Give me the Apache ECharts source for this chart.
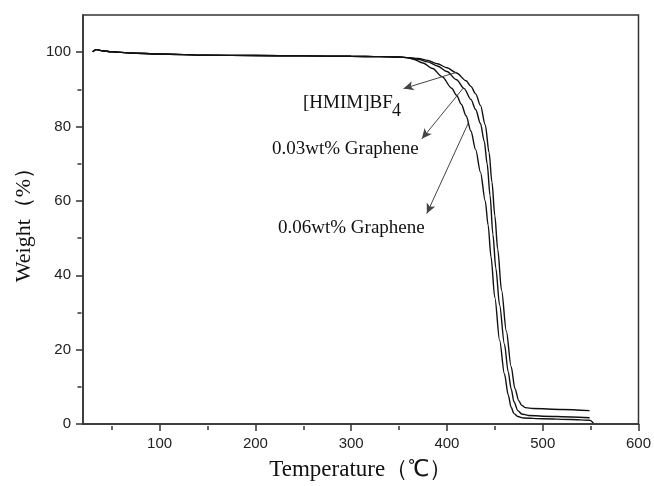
<!DOCTYPE html>
<html>
<head>
<meta charset="utf-8">
<script src="https://cdn.jsdelivr.net/npm/echarts@6/dist/echarts.min.js"></script>
<style>html,body{margin:0;padding:0;background:#fff;}#c{width:654px;height:486px;}</style>
</head>
<body>
<div id="c"></div>
<script>
// ---- data ----
var seriesNames = ['[HMIM]BF4', '0.03wt% Graphene', '0.06wt% Graphene'];
var commonTemp   = [30, 34, 40, 50, 70, 100, 150, 200, 250, 300, 330, 350, 360];
var commonWeight = [100.1, 100.7, 100.4, 100.1, 99.8, 99.5, 99.2, 99.1, 99.0, 98.9, 98.8, 98.7, 98.5];

var tempHMIM   = [370, 380, 390, 400, 410, 420, 425, 430, 435, 440, 444, 447, 450, 453, 457, 462, 467, 471, 475, 478, 482, 490, 520, 549];
var weightHMIM = [98.3, 97.8, 96.9, 95.8, 94.4, 92.3, 90.8, 88.8, 85.7, 80.5, 73, 65, 56, 47, 36, 25, 15.5, 9.5, 6.3, 5.0, 4.4, 4.15, 3.9, 3.6];

var temp003   = [370, 380, 390, 400, 410, 418, 425, 430, 435, 439, 442, 445, 448, 451, 455, 460, 464, 467, 470, 474, 478, 485, 500, 530, 549];
var weight003 = [98.1, 97.4, 96.3, 94.8, 92.6, 90.2, 87.3, 84.6, 80.8, 76, 70, 61.5, 51, 42, 32, 21.5, 14, 9.5, 6, 3.6, 2.7, 2.3, 2.1, 1.9, 1.7];

var temp006   = [365, 375, 385, 395, 405, 410, 415, 420, 425, 430, 435, 440, 443, 446, 450, 455, 460, 464, 467, 470, 474, 480, 500, 530, 549, 553];
var weight006 = [98.1, 97.1, 95.6, 93.4, 90.3, 88.4, 86.0, 82.9, 78.8, 73.8, 67.7, 60, 53.5, 45, 34, 22.5, 13.5, 7.8, 4.5, 2.8, 2.0, 1.6, 1.4, 1.2, 1.0, 0.3];

var xMajorTicks = [100, 200, 300, 400, 500, 600];
var xMinorTicks = [50, 150, 250, 350, 450, 550];
var yMajorTicks = [0, 20, 40, 60, 80, 100];
var yMinorTicks = [10, 30, 50, 70, 90];

// arrows: [from curve point] -> [label], in data units
var arrowFrom = [[410.2, 94.6], [417.2, 90.4], [422.4, 81.0]];
var arrowTo   = [[354.7, 90.2], [373.8, 76.7], [379.0, 56.6]];

function pairs(t, w) {
  var out = [];
  for (var i = 0; i < commonTemp.length; i++) out.push([commonTemp[i], commonWeight[i]]);
  for (var j = 0; j < t.length; j++) out.push([t[j], w[j]]);
  return out;
}

var chart = echarts.init(document.getElementById('c'), null, {renderer: 'canvas'});
var axisColor = '#333';
var serif = '"Liberation Serif", "Times New Roman", serif';
var sans = '"Liberation Sans", Arial, sans-serif';

var arrowData = arrowFrom.map(function (f, i) {
  return [{coord: f}, {coord: arrowTo[i]}];
});

function lineSeries(name, data, extra) {
  var s = {
    name: name, type: 'line', data: data, showSymbol: false, smooth: 0.3, smoothMonotone: 'x',
    lineStyle: {color: '#111', width: 1.4}, itemStyle: {color: '#111'},
    xAxisIndex: 0, yAxisIndex: 0, animation: false, z: 3
  };
  if (extra) for (var k in extra) s[k] = extra[k];
  return s;
}

var option = {
  backgroundColor: '#fff',
  animation: false,
  grid: {left: 83, right: 14, top: 15, bottom: 60, show: true, borderColor: axisColor, borderWidth: 1.5, backgroundColor: 'transparent'},
  xAxis: [{
    type: 'value', min: 20, max: 600, position: 'bottom',
    axisLine: {show: true, lineStyle: {color: axisColor, width: 1.5}},
    axisTick: {show: true, customValues: xMajorTicks, length: 7, lineStyle: {color: axisColor, width: 1.5}},
    axisLabel: {customValues: xMajorTicks, fontSize: 15, fontFamily: sans, color: '#222', margin: 12},
    splitLine: {show: false},
    name: 'Temperature（℃）', nameLocation: 'middle', nameGap: 34,
    nameTextStyle: {fontFamily: serif, fontSize: 23, color: '#111'}
  }, {
    type: 'value', min: 20, max: 600, position: 'top', offset: -411,
    axisLine: {show: false},
    axisTick: {show: true, inside: true, customValues: xMinorTicks, length: 4, lineStyle: {color: axisColor, width: 1.5}},
    axisLabel: {show: false}, splitLine: {show: false}
  }],
  yAxis: [{
    type: 'value', min: 0, max: 110, position: 'left',
    axisLine: {show: true, lineStyle: {color: axisColor, width: 1.5}},
    axisTick: {show: true, customValues: yMajorTicks, length: 7, lineStyle: {color: axisColor, width: 1.5}},
    axisLabel: {customValues: yMajorTicks, fontSize: 15, fontFamily: sans, color: '#222', margin: 12},
    splitLine: {show: false},
    name: 'Weight（%）', nameLocation: 'middle', nameGap: 37,
    nameTextStyle: {fontFamily: serif, fontSize: 22, color: '#111', padding: [0, 0, 0, 0]}
  }, {
    type: 'value', min: 0, max: 110, position: 'right', offset: -557,
    axisLine: {show: false},
    axisTick: {show: true, inside: true, customValues: yMinorTicks, length: 4, lineStyle: {color: axisColor, width: 1.5}},
    axisLabel: {show: false}, splitLine: {show: false}
  }],
  series: [
    lineSeries(seriesNames[0], pairs(tempHMIM, weightHMIM), {
      markLine: {
        silent: true, symbol: ['none', 'arrow'], symbolSize: [7, 10], precision: 2,
        lineStyle: {color: '#444', width: 1, type: 'solid'}, label: {show: false},
        emphasis: {disabled: true}, animation: false, data: arrowData
      }
    }),
    lineSeries(seriesNames[1], pairs(temp003, weight003)),
    lineSeries(seriesNames[2], pairs(temp006, weight006))
  ],
  graphic: [
    {type: 'text', left: 303, top: 94, silent: true, style: {text: '[HMIM]BF', font: '19px ' + serif, fill: '#111'}},
    {type: 'text', left: 392, top: 102, silent: true, style: {text: '4', font: '18px ' + serif, fill: '#111'}},
    {type: 'text', left: 272, top: 140, silent: true, style: {text: seriesNames[1], font: '19px ' + serif, fill: '#111'}},
    {type: 'text', left: 278, top: 219, silent: true, style: {text: seriesNames[2], font: '19px ' + serif, fill: '#111'}}
  ]
};
chart.setOption(option);
</script>
</body>
</html>
